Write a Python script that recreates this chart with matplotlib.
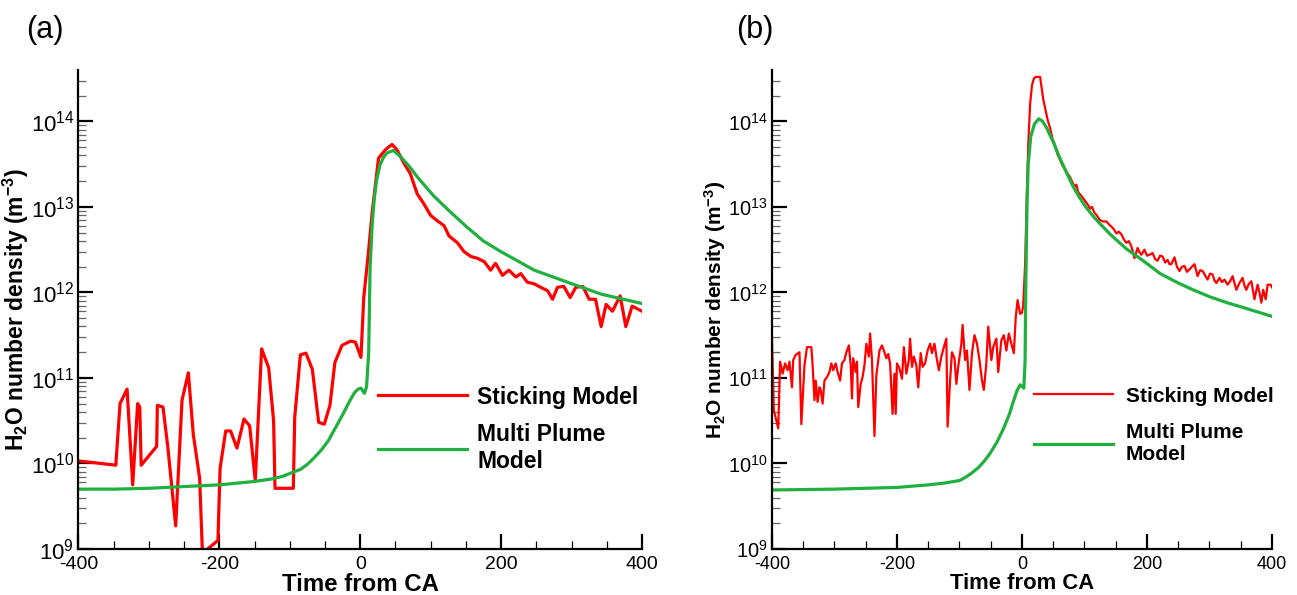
import numpy as np
import matplotlib.pyplot as plt
from matplotlib.ticker import LogLocator, MultipleLocator, NullFormatter
from matplotlib.lines import Line2D

plt.rcParams['font.family'] = 'Liberation Sans'
plt.rcParams['mathtext.fontset'] = 'custom'
plt.rcParams['mathtext.rm'] = 'Liberation Sans'
plt.rcParams['mathtext.bf'] = 'Liberation Sans:bold'
plt.rcParams['mathtext.it'] = 'Liberation Sans:italic'
plt.rcParams['axes.unicode_minus'] = False

RED = '#ff0000'
GREEN = '#1fb040'

# ---- panel (a): time from CA and log10 of density ----
a_red_t = [-400, -347, -341, -331, -323, -316, -313, -311, -289, -288, -280, -273,
           -262, -253, -244, -237, -228, -224, -202, -199, -191, -184, -175, -165,
           -157, -149, -140, -130, -123, -121, -95, -93, -85, -77, -68, -59, -51,
           -43, -36, -26, -14, -7, 1, 5, 12, 17, 26, 36, 45, 52, 62, 71, 81, 90,
           100, 109, 119, 126, 138, 147, 157, 166, 176, 185, 192, 202, 211, 221,
           228, 237, 247, 256, 266, 273, 280, 289, 298, 306, 316, 325, 334, 342,
           349, 358, 369, 377, 386, 400]
a_red_exp = [10.03, 9.98, 10.70, 10.87, 9.75, 10.70, 10.66, 9.98, 10.20, 10.68, 10.66, 10.18,
             9.27, 10.74, 11.06, 10.34, 9.83, 8.95, 9.10, 9.94, 10.38, 10.38, 10.18, 10.52,
             10.44, 9.80, 11.34, 11.12, 10.50, 9.71, 9.71, 10.54, 11.27, 11.29, 11.10, 10.48, 10.46,
             10.68, 11.18, 11.38, 11.43, 11.42, 11.24, 11.94, 12.50, 12.94, 13.57, 13.67, 13.73, 13.67, 13.51, 13.39, 13.15, 13.04,
             12.90, 12.84, 12.78, 12.66, 12.58, 12.48, 12.42, 12.40, 12.36, 12.26, 12.34, 12.20, 12.26, 12.18,
             12.22, 12.12, 12.10, 12.06, 12.02, 11.92, 12.06, 12.07, 11.94, 12.06, 12.07, 11.92, 11.92, 11.60,
             11.86, 11.78, 11.96, 11.60, 11.84, 11.78]

a_green_t = [-400, -350, -300, -250, -200, -150, -125, -110, -95, -85, -75, -65, -55,
             -45, -35, -25, -15, -8, -3, 1, 6, 9, 12, 14, 17, 20, 23, 28, 33, 38, 47,
             57, 70, 81, 104, 128, 152, 175, 199, 247, 294, 342, 400]
a_green_exp = [9.70, 9.70, 9.71, 9.73, 9.75, 9.79, 9.82, 9.85, 9.90, 9.93, 9.99, 10.07, 10.16,
               10.27, 10.42, 10.57, 10.73, 10.83, 10.87, 10.88, 10.82, 10.90, 11.30, 12.30, 12.80, 13.10, 13.30, 13.49, 13.58, 13.63, 13.66,
               13.59, 13.47, 13.35, 13.13, 12.94, 12.76, 12.60, 12.48, 12.26, 12.12, 11.98, 11.87]

# ---- panel (b) ----
b_red_t = [-400, -397, -390, -387, -383, -379, -375, -372, -368, -366, -362, -356,
           -353, -348, -344, -337, -335, -332, -330, -327, -324, -322, -319, -316,
           -312, -308, -305, -302, -298, -295, -291, -288, -284, -281, -277, -274,
           -272, -270, -266, -264, -262, -258, -255, -252, -249, -245, -243, -240,
           -238, -236, -233, -228, -224, -221, -217, -214, -211, -207, -204, -202,
           -200, -196, -192, -189, -185, -181, -179, -176, -173, -169, -166, -162,
           -159, -155, -151, -147, -144, -140, -136, -133, -129, -125, -121, -119,
           -115, -112, -108, -105, -102, -97, -95, -91, -88, -84, -80, -76, -72,
           -68, -64, -61, -57, -54, -49, -46, -41, -38, -33, -29, -25, -21, -17,
           -13, -10, -7, -3, 0, 2, 5, 8, 10, 13, 16, 19, 22, 29, 34, 41, 45, 49,
           53, 57, 61, 65, 68, 72, 76, 80, 84, 87, 90, 95, 98, 102, 105, 109, 112,
           116, 120, 124, 129, 135, 140, 143, 147, 151, 155, 159, 163, 167, 171,
           175, 180, 185, 188, 191, 196, 200, 204, 209, 213, 217, 221, 225, 229,
           233, 236, 239, 244, 248, 252, 256, 260, 264, 268, 272, 276, 281, 285,
           289, 293, 297, 301, 305, 308, 311, 316, 320, 324, 329, 333, 337, 343,
           348, 353, 356, 359, 363, 367, 372, 377, 380, 383, 386, 390, 393, 398, 400]
b_red_exp = [11.46, 10.62, 10.41, 11.19, 11.05, 11.17, 11.09, 11.19, 10.89, 11.21, 11.27, 11.30,
             10.46, 11.15, 11.36, 11.36, 11.15, 10.74, 10.97, 10.72, 10.89, 10.86, 10.70, 10.97,
             11.01, 11.07, 11.17, 11.09, 11.17, 11.07, 10.97, 11.17, 11.21, 11.30, 11.38, 11.15,
             10.76, 11.23, 11.07, 11.19, 10.66, 10.93, 11.01, 11.15, 11.40, 11.25, 11.52, 11.21,
             10.78, 10.32, 11.03, 11.32, 11.38, 11.32, 11.23, 11.28, 11.17, 10.58, 11.05, 10.58,
             11.17, 11.11, 10.99, 11.36, 11.05, 11.21, 11.46, 11.13, 11.25, 11.15, 10.89, 11.29,
             11.13, 11.17, 11.32, 11.40, 11.29, 11.40, 11.21, 11.09, 11.25, 11.36, 11.46, 10.43,
             10.97, 11.30, 11.23, 10.93, 11.13, 11.40, 11.62, 11.21, 11.32, 10.86, 11.29, 11.50, 11.40,
             11.21, 10.97, 10.86, 11.17, 11.60, 11.21, 11.36, 11.46, 11.07, 11.44, 11.50, 11.32, 11.52, 11.40,
             11.29, 11.71, 11.91, 11.75, 11.76, 11.85, 12.32, 13.20, 13.72, 14.20, 14.42, 14.50, 14.52, 14.52, 14.26, 14.02, 13.92, 13.79,
             13.72, 13.61, 13.55, 13.48, 13.46, 13.40, 13.36, 13.30, 13.24, 13.26, 13.17, 13.13, 13.10, 13.06, 13.03, 12.98, 13.00,
             12.93, 12.90, 12.85, 12.83, 12.83, 12.79, 12.77, 12.74, 12.69, 12.71, 12.68, 12.62, 12.58, 12.60,
             12.54, 12.40, 12.52, 12.47, 12.44, 12.50, 12.43, 12.44, 12.46, 12.39, 12.37, 12.43, 12.42, 12.35,
             12.38, 12.33, 12.33, 12.41, 12.30, 12.25, 12.30, 12.31, 12.24, 12.27, 12.30, 12.33, 12.19, 12.26,
             12.25, 12.20, 12.15, 12.22, 12.21, 12.14, 12.11, 12.17, 12.12, 12.15, 12.09, 12.13, 12.19, 12.03,
             12.11, 12.17, 12.08, 12.03, 12.10, 12.13, 11.92, 12.09, 12.00, 11.88, 12.03, 11.92, 12.09, 12.09, 12.06]

b_green_t = [-400, -300, -200, -150, -125, -100, -90, -80, -70, -60, -50, -40, -30,
             -20, -14, -8, -3, 3, 5, 6, 8, 10, 14, 20, 27, 33, 39, 50, 60, 70, 81,
             92, 103, 114, 124, 141, 167, 194, 221, 250, 274, 300, 328, 360, 400]
b_green_exp = [9.69, 9.70, 9.72, 9.75, 9.77, 9.80, 9.84, 9.89, 9.95, 10.03, 10.13, 10.25, 10.40,
               10.58, 10.72, 10.85, 10.92, 10.88, 11.20, 12.00, 13.00, 13.50, 13.82, 13.97, 14.03, 14.00, 13.93, 13.76, 13.58, 13.42, 13.25,
               13.11, 12.99, 12.89, 12.81, 12.68, 12.51, 12.37, 12.22, 12.11, 12.03, 11.95, 11.88, 11.81, 11.72]

fig = plt.figure(figsize=(12.97, 5.95), dpi=100)
ax_a = fig.add_axes([0.0605, 0.0773, 0.4345, 0.805])
ax_b = fig.add_axes([0.5952, 0.0773, 0.3855, 0.805])


def style(ax, fs_xtick, fs_ytick, fs_label, ylabpad):
    ax.set_yscale('log')
    ax.set_xlim(-400, 400)
    ax.set_ylim(1e9, 10**14.6)
    ax.xaxis.set_major_locator(MultipleLocator(200))
    ax.xaxis.set_minor_locator(MultipleLocator(50))
    ax.yaxis.set_major_locator(LogLocator(base=10, numticks=20))
    ax.yaxis.set_minor_locator(LogLocator(base=10, subs=np.arange(2, 10), numticks=20))
    ax.yaxis.set_minor_formatter(NullFormatter())
    for s in ['top', 'right']:
        ax.spines[s].set_visible(False)
    for s in ['left', 'bottom']:
        ax.spines[s].set_linewidth(1.6)
    ax.tick_params(which='major', direction='in', length=11, width=1.6)
    ax.tick_params(axis='x', which='major', labelsize=fs_xtick, pad=5)
    ax.tick_params(axis='y', which='major', labelsize=fs_ytick, pad=3)
    ax.tick_params(which='minor', direction='in', length=6, width=0.9)
    ax.tick_params(axis='y', which='minor', colors='#666666')
    ax.set_xlabel('Time from CA', fontsize=fs_label + 0.8, fontweight='bold', labelpad=0)
    ax.set_ylabel(r'H$_\mathbf{2}$O number density (m$^\mathbf{-3}$)',
                  fontsize=fs_label, fontweight='bold', labelpad=ylabpad)


# panel (a)
ax_a.plot(a_red_t, 10**np.array(a_red_exp), color=RED, lw=2.3)
ax_a.plot(a_green_t, 10**np.array(a_green_exp), color=GREEN, lw=2.3)
style(ax_a, 14, 16, 16.5, 0)
handles = [Line2D([], [], color=RED, lw=2.3), Line2D([], [], color=GREEN, lw=2.3)]
ax_a.legend(handles, ['Sticking Model', 'Multi Plume\nModel'], frameon=False,
            loc='center left', bbox_to_anchor=(0.531, 0.25), borderpad=0,
            borderaxespad=0, handlelength=3.9, handletextpad=0.45,
            labelspacing=0.65, prop={'weight': 'bold', 'size': 16.5})

# panel (b)
ax_b.plot(b_red_t, 10**np.array(b_red_exp), color=RED, lw=1.6)
ax_b.plot(b_green_t, 10**np.array(b_green_exp), color=GREEN, lw=2.3)
style(ax_b, 13, 14.5, 15, 0)
handles = [Line2D([], [], color=RED, lw=1.6), Line2D([], [], color=GREEN, lw=2.3)]
ax_b.legend(handles, ['Sticking Model', 'Multi Plume\nModel'], frameon=False,
            loc='center left', bbox_to_anchor=(0.524, 0.258), borderpad=0,
            borderaxespad=0, handlelength=3.8, handletextpad=0.6,
            labelspacing=0.85, prop={'weight': 'bold', 'size': 15})

fig.text(0.0347, 0.95, '(a)', fontsize=22, ha='center', va='center')
fig.text(0.582, 0.95, '(b)', fontsize=22, ha='center', va='center')

fig.savefig('out.png', dpi=100)
